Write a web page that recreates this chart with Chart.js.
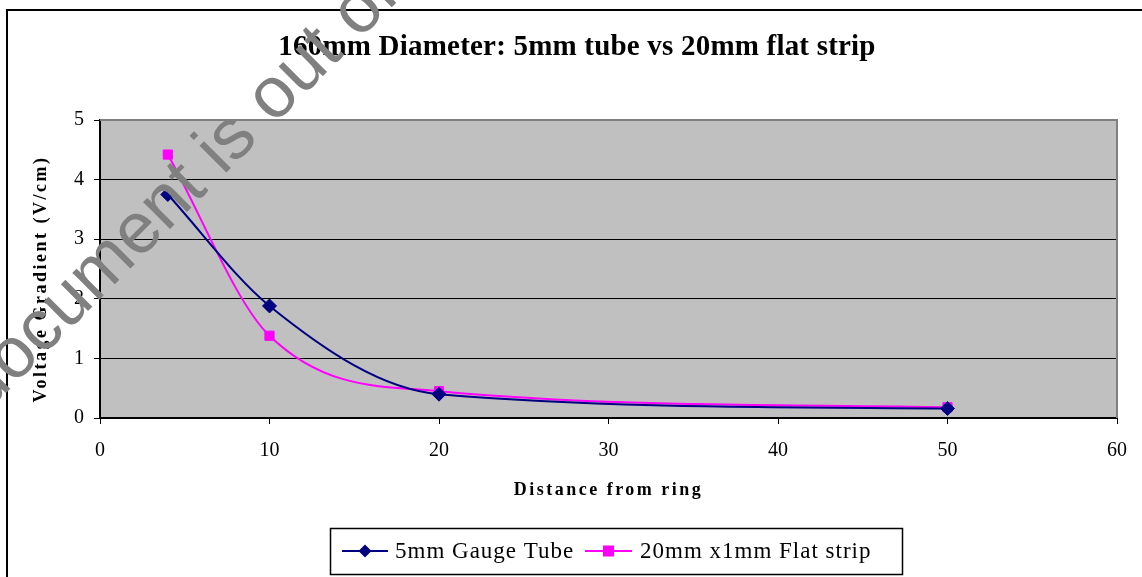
<!DOCTYPE html>
<html><head><meta charset="utf-8">
<script src="https://cdn.jsdelivr.net/npm/chart.js@4.4.0/dist/chart.umd.min.js"></script>
<style>html,body{margin:0;padding:0;background:#fff;overflow:hidden}#wrap{width:1142px;height:577px;position:relative}</style>
</head><body><div id="wrap"><canvas id="c" width="1142" height="577"></canvas></div>
<script>
const distances = [4, 10, 20, 50];
const tubeValues = [3.75, 1.88, 0.40, 0.16];
const stripValues = [4.42, 1.38, 0.45, 0.18];
const seriesNames = ['5mm Gauge Tube', '20mm x1mm Flat strip'];
const xTicks = [0, 10, 20, 30, 40, 50, 60];
const yTicks = [0, 1, 2, 3, 4, 5];
const chartTitle = '160mm Diameter: 5mm tube vs 20mm flat strip';
const xTitle = 'Distance from ring';
const yTitle = 'Voltage Gradient (V/cm)';
const watermarkText = 'This document is out of date';

const SERIF = "'Liberation Serif', 'Times New Roman', serif";
Chart.defaults.font.family = SERIF;
Chart.defaults.color = '#000';

const toPoints = (ys) => distances.map((x, i) => ({x: x, y: ys[i]}));

const plotBg = {
  id: 'plotBg',
  beforeDraw(chart) {
    const {ctx, chartArea: a} = chart;
    ctx.save();
    ctx.fillStyle = '#C0C0C0';
    ctx.fillRect(a.left, a.top, a.right - a.left, a.bottom - a.top);
    ctx.restore();
    ['x', 'y'].forEach(id => {
      const s = chart.scales[id];
      if (s && !s._wrappedTitle) {
        const orig = s.drawTitle.bind(s);
        s.drawTitle = function () {
          const c = this.ctx;
          c.save();
          c.letterSpacing = '2.5px';
          if (id === 'y') c.translate(0, 10);
          orig();
          c.restore();
        };
        s._wrappedTitle = true;
      }
    });
    const tb = chart.titleBlock;
    if (tb && !tb._wrapped) {
      const o = tb.draw.bind(tb);
      tb.draw = function () {
        const c = chart.ctx;
        c.save();
        c.letterSpacing = '0.2px';
        c.translate(15, 0);
        o();
        c.restore();
      };
      tb._wrapped = true;
    }
  },
  beforeDatasetsDraw(chart) {
    const {ctx, chartArea: a} = chart;
    ctx.save();
    ctx.strokeStyle = '#808080';
    ctx.lineWidth = 2;
    ctx.beginPath();
    ctx.moveTo(a.left, a.top);
    ctx.lineTo(a.right, a.top);
    ctx.lineTo(a.right, a.bottom);
    ctx.stroke();
    ctx.restore();
  },
  afterDraw(chart) {
    const ctx = chart.ctx;
    ctx.save();
    // outer chart frame
    ctx.strokeStyle = '#000';
    ctx.lineWidth = 2;
    ctx.strokeRect(7, 10, 1300, 700);
    // legend
    const box = {x: 330, y: 528, w: 572, h: 46};
    ctx.lineWidth = 1.5;
    ctx.strokeRect(box.x + 0.5, box.y + 0.5, box.w, box.h);
    const items = [{line0: 342, line1: 388, text: 395}, {line0: 585, line1: 632, text: 640}];
    ctx.font = '23px ' + SERIF;
    ctx.letterSpacing = '1px';
    ctx.textBaseline = 'middle';
    ctx.textAlign = 'left';
    const yMid = box.y + box.h / 2;
    chart.data.datasets.forEach((d, i) => {
      const it = items[i];
      ctx.strokeStyle = d.borderColor;
      ctx.lineWidth = 2;
      ctx.beginPath();
      ctx.moveTo(it.line0, yMid);
      ctx.lineTo(it.line1, yMid);
      ctx.stroke();
      const mx = (it.line0 + it.line1) / 2;
      ctx.fillStyle = d.pointBackgroundColor;
      ctx.beginPath();
      if (d.pointStyle === 'rectRot') {
        const r = 6.5;
        ctx.moveTo(mx, yMid - r); ctx.lineTo(mx + r, yMid); ctx.lineTo(mx, yMid + r); ctx.lineTo(mx - r, yMid); ctx.closePath();
      } else {
        ctx.rect(mx - 5.5, yMid - 5.5, 11, 11);
      }
      ctx.fill();
      ctx.fillStyle = '#000';
      ctx.fillText(d.label, it.text, yMid + 1);
    });
    ctx.letterSpacing = '0px';
    // watermark
    ctx.translate(-125, 524);
    ctx.rotate(-Math.PI / 4);
    ctx.font = "72px 'Liberation Sans', Arial, sans-serif";
    ctx.fillStyle = '#808080';
    ctx.textBaseline = 'alphabetic';
    ctx.fillText(watermarkText, 0, 0);
    ctx.restore();
  }
};

new Chart(document.getElementById('c'), {
  type: 'line',
  data: {
    datasets: [
      {
        label: seriesNames[0],
        data: toPoints(tubeValues),
        borderColor: '#000080',
        backgroundColor: '#000080',
        pointBackgroundColor: '#000080',
        pointBorderColor: '#000080',
        pointStyle: 'rectRot',
        pointRadius: 7,
        pointBorderWidth: 1,
        borderWidth: 2,
        cubicInterpolationMode: 'monotone',
        fill: false
      },
      {
        label: seriesNames[1],
        data: toPoints(stripValues),
        borderColor: '#FF00FF',
        backgroundColor: '#FF00FF',
        pointBackgroundColor: '#FF00FF',
        pointBorderColor: '#FF00FF',
        pointStyle: 'rect',
        pointRadius: 6.5,
        pointBorderWidth: 1,
        borderWidth: 2,
        cubicInterpolationMode: 'monotone',
        fill: false
      }
    ]
  },
  options: {
    responsive: false,
    animation: false,
    devicePixelRatio: 1,
    layout: {padding: {left: 7, right: 25, top: 0, bottom: 0}},
    plugins: {
      legend: {display: false},
      tooltip: {enabled: false},
      title: {
        display: true,
        text: chartTitle,
        color: '#000',
        font: {size: 29, weight: 'bold', family: SERIF, lineHeight: 1.2},
        padding: {top: 30, bottom: 55.2}
      }
    },
    scales: {
      x: {
        type: 'linear',
        min: 0, max: 60,
        afterBuildTicks: s => { s.ticks = xTicks.map(v => ({value: v})); },
        afterFit: s => { s.height = 159; },
        grid: {drawOnChartArea: false, drawTicks: true, tickLength: 6, color: '#000', tickColor: '#000', lineWidth: 1},
        border: {display: true, color: '#000', width: 2},
        ticks: {font: {size: 20, family: SERIF}, color: '#000', padding: 15, maxRotation: 0},
        title: {display: true, text: xTitle, color: '#000', font: {size: 18, weight: 'bold', family: SERIF, lineHeight: 1.2}, padding: {top: 0, bottom: 76}}
      },
      y: {
        type: 'linear',
        min: 0, max: 5,
        afterBuildTicks: s => { s.ticks = yTicks.map(v => ({value: v})); },
        afterFit: s => { s.width = 93; },
        grid: {drawTicks: true, tickLength: 6, color: ctx => (ctx.tick && ctx.tick.value === 5 ? '#808080' : '#000'), tickColor: '#000', lineWidth: 1},
        border: {display: true, color: '#000', width: 2},
        ticks: {font: {size: 20, family: SERIF}, color: '#000', padding: 10},
        title: {display: true, text: yTitle, color: '#000', font: {size: 18, weight: 'bold', family: SERIF, lineHeight: 1.2}, padding: {top: 24, bottom: 0}}
      }
    }
  },
  plugins: [plotBg]
});
</script>
</body></html>
